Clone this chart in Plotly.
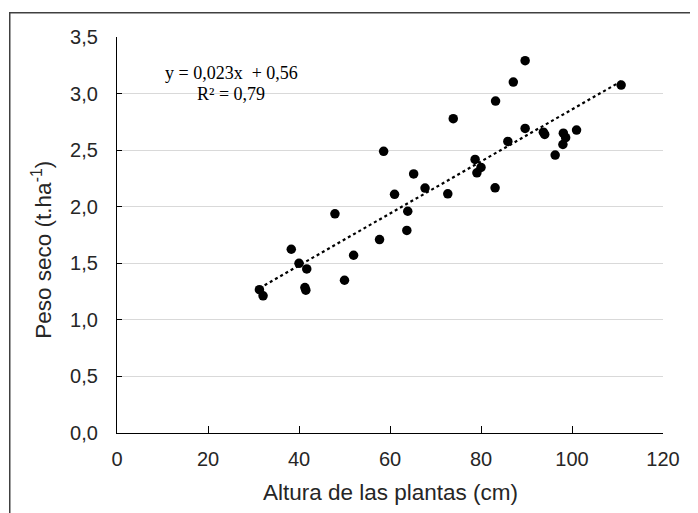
import plotly.graph_objects as go

altura = [31.3, 32.1, 38.3, 40.0, 41.7, 41.3, 41.5, 47.9, 50.0, 52.0, 57.7, 58.6,
          61.0, 63.9, 63.7, 65.2, 67.7, 72.7, 73.9, 78.7, 80.0, 79.1, 83.1, 83.2,
          85.9, 87.1, 89.7, 89.7, 93.7, 94.0, 96.3, 98.1, 98.6, 98.0, 101.0, 110.8]
peso = [1.267, 1.212, 1.624, 1.500, 1.450, 1.285, 1.262, 1.937, 1.350, 1.571, 1.71, 2.49,
        2.11, 1.96, 1.79, 2.29, 2.165, 2.114, 2.778, 2.418, 2.347, 2.30, 2.167, 2.934,
        2.577, 3.102, 3.291, 2.692, 2.659, 2.639, 2.456, 2.650, 2.610, 2.550, 2.677, 3.075]

slope = 0.023
intercept = 0.56
r2 = 0.79
trend_x = [min(altura), max(altura)]
trend_y = [slope * v + intercept for v in trend_x]

y_ticks = [0, 0.5, 1.0, 1.5, 2.0, 2.5, 3.0, 3.5]
x_ticks = [0, 20, 40, 60, 80, 100, 120]

fig = go.Figure()
fig.add_trace(go.Scatter(x=trend_x, y=trend_y, mode="lines",
                         line=dict(color="black", width=2.2, dash="dot"),
                         hoverinfo="skip", showlegend=False))
fig.add_trace(go.Scatter(x=altura, y=peso, mode="markers",
                         marker=dict(color="black", size=9.5),
                         showlegend=False))

tickfont = dict(family="Liberation Sans, Arial, sans-serif", size=20, color="#262626")

# page body has an 8px margin, so the figure is offset by 8px
fig.update_layout(
    width=690, height=505,
    margin=dict(l=109, r=35, t=29, b=80, autoexpand=False),
    paper_bgcolor="white", plot_bgcolor="white",
    separators=",.",
    showlegend=False,
    xaxis=dict(range=[0, 120], tickvals=x_ticks, showgrid=False, zeroline=False,
               automargin=False,
               showline=True, linecolor="black", linewidth=1.3,
               ticks="inside", ticklen=7, tickwidth=1.3, tickcolor="black",
               tickfont=tickfont, ticklabelstandoff=8),
    yaxis=dict(range=[0, 3.5], tickvals=y_ticks, tickformat=".1f",
               automargin=False,
               showgrid=True, gridcolor="#d9d9d9", gridwidth=1, zeroline=False,
               showline=True, linecolor="black", linewidth=1.3,
               ticks="inside", ticklen=5, tickwidth=1.3, tickcolor="black",
               tickfont=tickfont, ticklabelstandoff=14),
)

axis_title_font = dict(family="Liberation Sans, Arial, sans-serif", size=22.5, color="#262626")
fig.add_annotation(text="Altura de las plantas (cm)", xref="paper", yref="paper",
                   x=0.5, y=-0.1497, xanchor="center", yanchor="middle",
                   showarrow=False, font=axis_title_font)
fig.add_annotation(text="Peso seco (t.ha<sup>-1</sup>)", xref="paper", yref="paper",
                   x=-0.138, y=0.462, xanchor="center", yanchor="middle",
                   textangle=-90, showarrow=False, font=axis_title_font)

eq_font = dict(family="Liberation Serif, Times New Roman, serif", size=18, color="black")
fig.add_annotation(text=f"y = {str(slope).replace('.', ',')}x&nbsp; + {str(intercept).replace('.', ',')}",
                   x=25.2, y=3.18, xanchor="center", yanchor="middle",
                   showarrow=False, font=eq_font)
fig.add_annotation(text=f"R² = {str(r2).replace('.', ',')}",
                   x=25.0, y=3.0, xanchor="center", yanchor="middle",
                   showarrow=False, font=eq_font)

# outer chart frame (only its left and top edges fall inside the picture)
fig.add_annotation(text=" ", xref="paper", yref="paper", x=-0.198, y=1.0631,
                   xanchor="left", yanchor="top", width=900, height=700,
                   showarrow=False, bordercolor="#404040", borderwidth=1.5,
                   borderpad=0, bgcolor="rgba(0,0,0,0)")

fig.write_html("out.html")
